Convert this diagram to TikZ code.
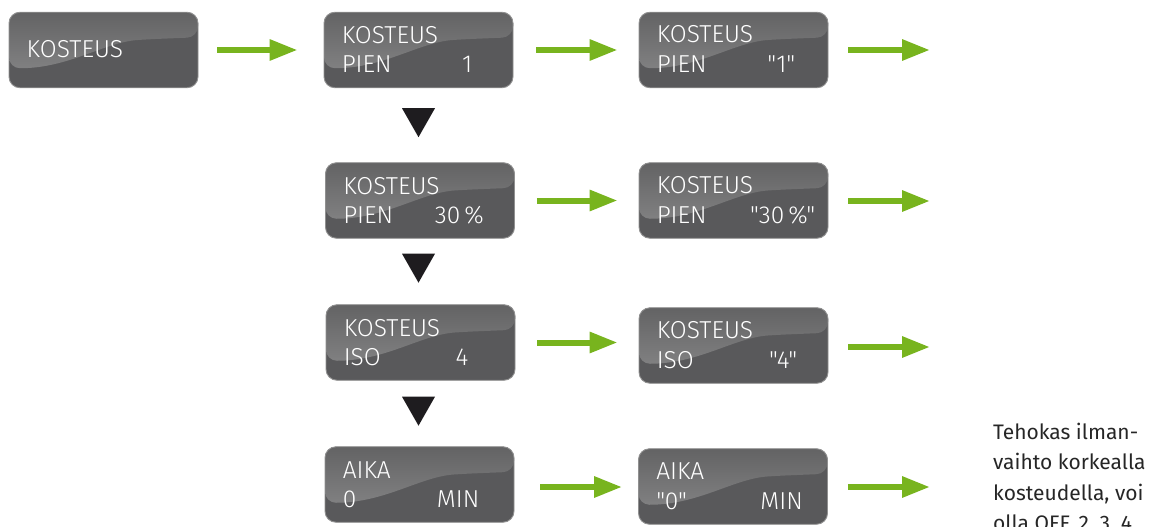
\documentclass[tikz,border=0pt]{standalone}
\usepackage{fontspec}
\setmainfont{Fira Sans}
\newfontfamily\dispfont{Fira Sans Light}
\usetikzlibrary{arrows.meta}
\definecolor{boxdark}{HTML}{59595B}
\definecolor{boxtop}{HTML}{636364}
\definecolor{boxlight}{HTML}{8A8A8B}
\definecolor{boxedge}{HTML}{909090}
\definecolor{arrowgreen}{HTML}{78B41E}
\definecolor{tri}{HTML}{1E1C1F}
\begin{document}
\begin{tikzpicture}[x=1pt,y=-1pt,
  disp/.style={draw=boxedge, line width=0.9pt, fill=boxdark, rounded corners=11pt,
    minimum width=189pt, minimum height=75.5pt, inner sep=0pt,
    path picture={\fill[top color=boxtop, bottom color=boxlight]
      (path picture bounding box.north west) -- ([yshift=-56pt]path picture bounding box.north west)
      .. controls ([xshift=60pt,yshift=-56pt]path picture bounding box.north west)
         and ([xshift=95pt,yshift=-30pt]path picture bounding box.north west)
      .. ([xshift=140pt,yshift=-27pt]path picture bounding box.north west)
      -- ([yshift=-25pt]path picture bounding box.north east)
      -- (path picture bounding box.north east) -- cycle;}},
  txt/.style={text=white, font=\dispfont\fontsize{24.5}{24.5}\selectfont, inner sep=0pt},
  garrow/.style={draw=arrowgreen, line width=6pt, -{Triangle[length=28pt,width=20pt]}},
  downtri/.style={fill=tri},
  note/.style={font=\fontsize{21}{30.5}\selectfont, align=left, inner sep=0pt, text=black!85}]
\useasboundingbox (0,0) rectangle (1164,527);
\clip (0,0) rectangle (1164,527);

% boxes
\node[disp] (a) at (103.5,50) {};
\node[disp] (b1) at (418.5,50) {};
\node[disp] (c1) at (733.5,50) {};
\node[disp] (b2) at (420,200.5) {};
\node[disp] (c2) at (733.5,200.5) {};
\node[disp] (b3) at (420.5,342.5) {};
\node[disp] (c3) at (733.5,345.5) {};
\node[disp] (b4) at (419.5,484.5) {};
\node[disp] (c4) at (733,486.5) {};

% texts
\path (a.north west) ++(18,46) node[txt,anchor=base west] (at) {KOSTEUS};

\path (b1.north west) ++(18,32) node[txt,anchor=base west] (b1t) {KOSTEUS};
\path (b1.north west) ++(18,61) node[txt,anchor=base west] (b1s) {PIEN};
\path (b1.north east) ++(-41,61) node[txt,anchor=base east] (b1v) {1};

\path (c1.north west) ++(18,31) node[txt,anchor=base west] (c1t) {KOSTEUS};
\path (c1.north west) ++(18,61) node[txt,anchor=base west] (c1s) {PIEN};
\path (c1.north east) ++(-33,61) node[txt,anchor=base east] (c1v) {"1"};

\path (b2.north west) ++(18,32) node[txt,anchor=base west] (b2t) {KOSTEUS};
\path (b2.north west) ++(18,61) node[txt,anchor=base west] (b2s) {PIEN};
\path (b2.north east) ++(-31,61) node[txt,anchor=base east] (b2v) {30\,\%};

\path (c2.north west) ++(18,31) node[txt,anchor=base west] (c2t) {KOSTEUS};
\path (c2.north west) ++(18,61) node[txt,anchor=base west] (c2s) {PIEN};
\path (c2.north east) ++(-13,61) node[txt,anchor=base east] (c2v) {"30\,\%"};

\path (b3.north west) ++(18,32) node[txt,anchor=base west] (b3t) {KOSTEUS};
\path (b3.north west) ++(18,61) node[txt,anchor=base west] (b3s) {ISO};
\path (b3.north east) ++(-47,61) node[txt,anchor=base east] (b3v) {4};

\path (c3.north west) ++(18,31) node[txt,anchor=base west] (c3t) {KOSTEUS};
\path (c3.north west) ++(18,61) node[txt,anchor=base west] (c3s) {ISO};
\path (c3.north east) ++(-31,61) node[txt,anchor=base east] (c3v) {"4"};

\path (b4.north west) ++(18,32) node[txt,anchor=base west] (b4t) {AIKA};
\path (b4.north west) ++(18,61) node[txt,anchor=base west] (b4s) {0};
\path (b4.north east) ++(-35,61) node[txt,anchor=base east] (b4v) {MIN};

\path (c4.north west) ++(18,31) node[txt,anchor=base west] (c4t) {AIKA};
\path (c4.north west) ++(18,61) node[txt,anchor=base west] (c4s) {"0"};
\path (c4.north east) ++(-25,61) node[txt,anchor=base east] (c4v) {MIN};

% free arrow ends
\coordinate (e1) at (930,50);
\coordinate (e2) at (930,201);
\coordinate (e3) at (930,347);
\coordinate (e4) at (930,487);
\coordinate (t3) at (c3.west |- b3.east);

% green arrows
\draw[garrow] ([xshift=19pt]a.east) -- ([xshift=-26pt]b1.west);
\draw[garrow] ([xshift=23pt]b1.east) -- ([xshift=-21pt]c1.west);
\draw[garrow] ([xshift=20pt]c1.east) -- (e1);
\draw[garrow] ([xshift=22pt]b2.east) -- ([xshift=-21pt]c2.west);
\draw[garrow] ([xshift=20pt]c2.east |- e2) -- (e2);
\draw[garrow] ([xshift=22pt]b3.east) -- ([xshift=-21pt]t3);
\draw[garrow] ([xshift=20pt]c3.east |- e3) -- (e3);
\draw[garrow] ([xshift=26pt]b4.east |- e4) -- ([xshift=-16pt]c4.west |- e4);
\draw[garrow] ([xshift=20pt]c4.east |- e4) -- (e4);

% black down triangles
\fill[downtri] ([xshift=-16.5pt,yshift=-20pt]b1.south) -- ++(33,0) -- ++(-16.5,29) -- cycle;
\fill[downtri] ([xshift=-18pt,yshift=-15pt]b2.south) -- ++(33,0) -- ++(-16.5,29) -- cycle;
\fill[downtri] ([xshift=-18.5pt,yshift=-16pt]b3.south) -- ++(33,0) -- ++(-16.5,29) -- cycle;

% note (base anchor = last line's baseline)
\node[note, anchor=base west] (n) at (993,530.5) {Tehokas ilman-\\vaihto korkealla\\kosteudella, voi\\olla OFF, 2, 3, 4};
\end{tikzpicture}
\end{document}
